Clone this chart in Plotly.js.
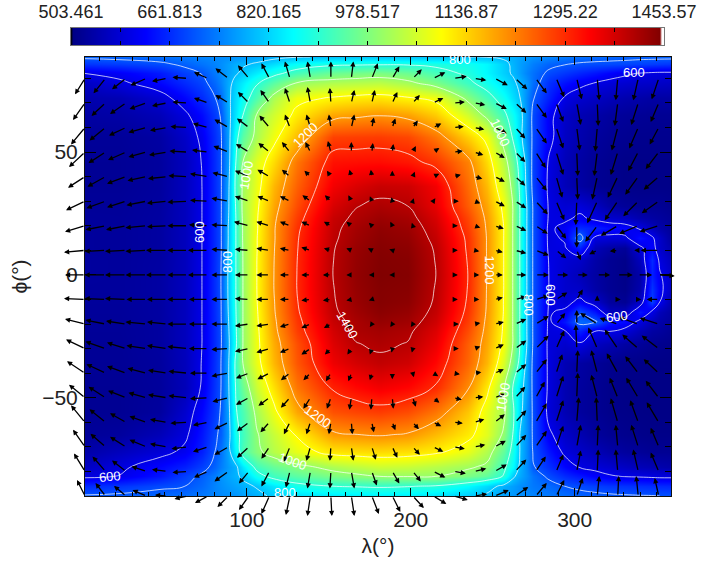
<!DOCTYPE html>
<html><head><meta charset="utf-8">
<script src="https://cdn.plot.ly/plotly-3.0.1.min.js"></script>
<style>html,body{margin:0;padding:0;background:#fff}#c{width:707px;height:565px}</style>
</head><body><div id="c"></div>
<script>
const lons=[1.25,22.6,47,62.2,72.6,80.5,84.2,88.4,93.3,97.6,106.1,116.5,130.5,152.5,166.5,181.1,198.2,215.3,234.8,246.4,256.7,262.2,266.5,270.8,274.4,284.2,293.9,303.1,312.2,321.4,330.5,339.7,347,351.9,358.75];
const lats=[88.7,86,82,78,72,65,56,46,36,28,23,19,15,11,6,0,-6,-11,-15,-19,-23,-28,-36,-46,-56,-65,-72,-78,-82,-86,-90];
const temperature=[
[710,715,725,735,745,750,752,755,760,765,775,785,797,805,808,810,808,804,800,798,790,784,775,765,757,745,735,725,720,716,714,712,712,712,712],
[670,678,692,712,730,745,755,770,785,792,805,830,865,885,888,890,890,885,875,855,815,790,770,755,740,715,704,696,692,690,687,682,678,675,672],
[600,615,645,680,702,735,752,772,795,812,845,885,925,960,968,975,960,925,890,855,815,795,770,745,728,690,672,655,640,622,608,597,592,590,590],
[565,590,625,660,685,720,745,780,820,845,895,945,1005,1025,1030,1035,1015,975,915,875,835,812,788,760,725,665,635,612,598,585,578,572,570,568,565],
[545,550,580,625,660,698,725,785,830,870,935,1020,1085,1105,1115,1120,1105,1085,985,925,870,830,802,750,705,650,595,575,565,555,545,540,535,535,535],
[535,538,555,590,630,675,705,780,840,900,1005,1055,1115,1180,1190,1198,1185,1145,1055,985,915,870,825,755,690,615,570,550,540,530,525,522,520,520,520],
[525,525,535,570,610,665,695,770,880,945,1020,1085,1160,1275,1278,1280,1270,1225,1140,1085,975,895,825,750,692,615,565,545,530,522,518,515,515,515,515],
[522,522,530,560,602,662,695,770,900,1000,1070,1130,1225,1320,1323,1325,1315,1285,1215,1130,1030,955,870,775,685,595,555,535,522,515,510,510,510,510,510],
[522,522,530,560,600,662,695,780,915,1010,1080,1165,1245,1345,1368,1385,1380,1345,1235,1160,1055,985,890,785,685,590,555,535,520,515,510,510,510,510,510],
[525,525,532,560,600,662,695,785,905,1015,1090,1180,1265,1370,1398,1410,1400,1355,1250,1180,1085,1000,900,800,700,595,580,585,565,535,525,520,520,520,515],
[527,526,533,560,600,662,695,790,900,1010,1095,1190,1280,1385,1408,1425,1415,1370,1270,1190,1095,1000,900,800,700,595,590,610,590,575,565,545,535,530,522],
[528,527,533,560,600,662,695,795,900,1005,1095,1195,1290,1390,1417,1435,1425,1380,1280,1195,1100,1000,900,800,700,590,615,660,650,630,625,595,560,540,525],
[528,527,533,560,600,662,695,795,900,1005,1098,1195,1295,1393,1422,1440,1432,1388,1290,1198,1100,1000,900,800,700,590,605,730,590,585,590,635,610,570,530],
[528,527,533,560,600,662,695,797,900,1002,1098,1197,1297,1397,1428,1444,1438,1395,1293,1198,1100,1000,900,800,700,592,595,650,555,535,525,590,625,570,545],
[530,528,534,560,600,663,697,798,900,1001,1100,1199,1299,1399,1431,1447,1443,1398,1297,1199,1100,1000,900,800,700,598,580,570,540,520,512,560,660,590,560],
[530,528,535,560,600,665,700,800,900,1000,1100,1200,1300,1400,1433,1449,1445,1400,1300,1200,1100,1000,900,800,700,600,575,555,535,520,510,540,650,605,570],
[528,528,535,560,600,665,700,800,900,1000,1100,1200,1300,1398,1430,1446,1442,1397,1298,1198,1100,1000,900,800,700,600,575,570,540,520,512,545,670,615,565],
[527,527,534,560,600,664,698,798,900,1000,1098,1197,1297,1396,1427,1445,1438,1394,1294,1197,1098,1000,900,800,700,598,580,615,575,530,520,570,680,600,545],
[526,526,534,560,600,663,697,795,898,1000,1095,1195,1293,1393,1421,1440,1430,1388,1288,1195,1098,1000,900,800,700,595,610,690,640,560,560,640,595,555,535],
[525,525,533,560,600,662,696,790,895,1000,1092,1190,1285,1385,1412,1430,1420,1378,1278,1190,1095,1000,900,800,700,592,640,720,710,640,630,590,555,540,528],
[524,524,532,560,600,662,695,785,893,1000,1088,1185,1278,1375,1410,1418,1408,1365,1265,1185,1092,1000,900,800,700,590,595,650,600,600,585,555,535,530,520],
[523,523,532,560,600,662,695,780,890,1000,1085,1175,1262,1365,1398,1408,1398,1352,1248,1178,1085,1000,900,800,700,588,575,595,565,550,535,525,518,515,512],
[522,522,530,558,602,665,700,785,915,1000,1080,1165,1255,1350,1374,1390,1378,1330,1240,1165,1060,975,880,780,690,590,550,535,525,515,510,510,508,508,508],
[520,520,528,555,605,670,700,785,905,960,1050,1125,1225,1305,1328,1345,1330,1295,1205,1115,1010,900,830,770,690,590,548,530,520,512,508,508,507,507,507],
[520,520,530,575,625,675,705,775,895,930,1015,1085,1180,1260,1272,1280,1265,1225,1150,1075,1015,915,825,750,695,585,550,530,520,512,510,508,507,507,507],
[525,530,555,590,640,690,712,770,880,920,995,1045,1105,1190,1199,1205,1195,1160,1115,1070,990,900,800,755,695,610,570,550,530,520,515,512,510,510,510],
[540,560,585,610,650,700,730,775,860,930,985,1030,1075,1120,1126,1130,1125,1110,1075,1025,950,880,800,750,700,640,590,570,555,540,530,525,520,520,520],
[565,590,625,650,680,715,740,765,790,840,920,955,985,1020,1036,1050,1045,1030,1010,990,915,860,790,750,705,665,625,595,585,575,565,555,550,545,540],
[590,602,640,680,710,740,760,775,790,810,875,920,945,975,988,1000,1002,1000,975,950,895,810,780,755,730,690,660,640,620,605,598,595,592,590,590],
[660,670,690,700,720,745,755,765,775,785,805,840,880,900,904,908,903,895,860,825,785,770,755,745,735,720,700,690,680,672,668,665,662,660,658],
[705,710,720,725,735,745,750,755,760,770,785,810,830,840,843,845,843,835,810,790,770,762,755,750,745,735,725,715,712,708,705,703,702,700,700]
];
const colourbarMin=503.461, colourbarMax=1453.57;
const colourbarTickValues=[503.461,582.637,661.813,740.989,820.165,899.341,978.517,1057.69,1136.87,1216.05,1295.22,1374.4,1453.57];
const colourbarTickLabels=['503.461','','661.813','','820.165','','978.517','','1136.87','','1295.22','','1453.57'];
const contourLabelTexts=['600','600','800','1000','1200','1400','1200','800','600','600','1000','1000','800','600','1200','1000','800'];
const contourLabelLons=[336,71.4,88.4,100,136,161.6,248,271.4,284.8,325.6,254.3,128,123.2,16.5,143.3,256,230];
const contourLabelLats=[82.2,17.5,5.3,40.7,57,-20.4,2,-12.2,-8.1,-17,57.8,-76,-88.7,-82.2,-57.8,-49.7,87.6];
const contourLabelAngles=[0,-90,-90,-80,-45,60,90,90,90,-8,65,20,0,-5,35,-80,0];
const arrowLons=[1.25,13.75,26.25,38.75,51.25,63.75,76.25,88.75,101.25,113.75,126.25,138.75,151.25,163.75,176.25,188.75,201.25,213.75,226.25,238.75,251.25,263.75,276.25,288.75,301.25,313.75,326.25,338.75,351.25];
const arrowLats=[80,70,60,50,40,30,20,10,0,-10,-20,-30,-40,-50,-60,-70,-80,-90];
const windEast=[
[-10,-12,-14,-16,-15,-15,-14,-13,-11,-8,-5,-3,0,2,6,7,9,12,13,12,13,12,11,8,5,2,-2,-5,-7],
[-12,-14,-16,-17,-15,-15,-14,-13,-11,-9,-5,-3,-1,3,3,5,7,10,11,11,12,11,11,7,4,1,-3,-7,-8],
[-14,-16,-17,-18,-17,-17,-15,-14,-12,-10,-5,-4,-2,3,2,3,5,8,10,10,12,10,11,7,3,-2,-6,-9,-9],
[-16,-17,-18,-18,-18,-18,-16,-15,-13,-11,-8,-5,-3,0,1,1,3,6,9,9,10,10,10,7,1,-3,-7,-10,-13],
[-17,-18,-19,-19,-19,-19,-18,-16,-14,-12,-8,-6,-4,-2,-1,0,2,6,7,8,10,10,11,6,1,-5,-10,-13,-15],
[-19,-19,-19,-20,-20,-20,-18,-17,-14,-12,-10,-8,-6,-3,-2,-1,1,2,5,6,10,11,12,8,-1,-10,-13,-15,-17],
[-20,-20,-20,-21,-20,-20,-19,-17,-15,-13,-10,-9,-7,-5,-3,-2,-1,2,4,6,9,11,12,10,0,-12,-17,-19,-19],
[-21,-21,-21,-21,-21,-20,-20,-17,-14,-13,-10,-9,-7,-5,-4,-3,-1,2,4,5,8,11,13,10,4,-8,-8,-4,-18],
[-20,-21,-21,-21,-21,-20,-20,-17,-14,-13,-10,-9,-8,-5,-3,-3,-2,-1,4,5,8,11,13,12,11,13,15,14,16],
[-21,-21,-21,-20,-20,-20,-19,-17,-14,-13,-10,-9,-8,-5,-3,-2,-1,-2,4,5,8,11,13,11,6,0,3,3,-12],
[-20,-20,-20,-21,-20,-20,-19,-17,-14,-13,-10,-9,-7,-5,-2,-2,-2,1,5,6,9,11,13,9,0,-17,-18,-20,-19],
[-19,-20,-19,-20,-20,-20,-19,-17,-14,-13,-10,-9,-6,-4,-2,-1,-1,2,5,6,9,11,13,8,-1,-9,-13,-16,-17],
[-18,-19,-19,-19,-19,-19,-18,-17,-13,-12,-9,-7,-5,-3,-2,0,1,5,6,7,9,11,11,6,1,-6,-11,-13,-15],
[-16,-17,-18,-18,-19,-19,-18,-16,-13,-11,-9,-7,-4,-2,-1,1,3,6,8,9,10,10,9,7,1,-6,-8,-12,-13],
[-14,-16,-16,-17,-17,-17,-15,-14,-12,-9,-6,-4,-2,1,2,3,6,8,9,10,10,11,11,7,2,-1,-7,-8,-12],
[-12,-15,-16,-17,-17,-16,-15,-14,-12,-8,-6,-4,-1,2,4,5,7,10,11,11,11,11,11,7,4,1,-2,-7,-8],
[-11,-13,-14,-15,-15,-15,-14,-14,-10,-8,-4,-3,-1,3,5,7,8,12,12,12,12,11,10,7,4,1,-2,-5,-8],
[-8,-10,-12,-14,-12,-13,-13,-11,-10,-8,-4,-3,1,3,7,8,11,13,14,13,14,13,11,8,6,2,1,-2,-4]
];
const windNorth=[
[-16,-15,-11,-7,-3,1,6,10,13,15,17,17,17,17,15,12,9,6,2,-2,-7,-11,-15,-19,-21,-22,-22,-22,-21],
[-17,-13,-11,-6,-3,1,5,8,11,13,15,16,15,13,13,11,8,5,1,-2,-6,-10,-15,-19,-22,-23,-23,-22,-19],
[-17,-13,-8,-5,-3,1,4,8,9,12,13,13,13,13,10,9,7,4,1,-2,-6,-11,-16,-21,-23,-24,-23,-21,-17],
[-15,-11,-8,-5,-3,1,2,6,8,9,10,10,11,10,9,8,6,4,1,-3,-6,-10,-16,-23,-24,-24,-23,-19,-17],
[-11,-10,-7,-4,-2,1,3,4,6,7,7,6,6,7,7,6,5,3,2,-2,-5,-9,-14,-21,-23,-23,-21,-18,-13],
[-9,-7,-6,-4,-2,-1,1,3,5,5,5,6,6,6,5,4,3,3,0,-2,-5,-7,-13,-19,-24,-22,-19,-15,-12],
[-6,-4,-4,-2,-1,0,1,1,4,4,4,4,4,4,3,4,3,2,0,-2,-3,-5,-8,-13,-22,-16,-10,-8,-6],
[-2,-1,-1,-1,0,0,0,1,1,2,2,3,2,2,2,1,0,0,0,-1,-2,-3,-5,-8,-10,-4,-1,0,0],
[0,0,0,0,0,0,0,0,0,0,0,0,0,0,0,0,0,0,0,0,0,0,0,0,0,0,0,0,-1],
[1,1,1,0,0,0,0,0,1,0,0,-1,-1,-1,-1,-1,-1,-1,0,0,2,3,4,7,10,4,0,0,0],
[5,4,3,2,2,0,0,0,-2,-2,-3,-4,-4,-4,-3,-3,-3,-2,0,1,2,5,8,11,14,11,6,7,6],
[9,7,6,3,3,2,0,-1,-3,-4,-4,-6,-6,-6,-6,-4,-4,2,0,2,4,8,13,18,24,21,19,14,13],
[12,9,7,5,3,2,0,-3,-5,-6,-7,-7,-8,-8,-7,-6,-4,-3,-1,1,4,9,14,19,23,23,20,17,14],
[13,11,7,5,3,2,-1,-4,-7,-8,-10,-11,-11,-12,-12,-11,-9,-5,-2,1,4,11,16,22,25,23,20,20,17],
[17,13,9,6,3,-1,-3,-7,-9,-10,-12,-12,-12,-12,-10,-8,-7,-4,-1,3,8,12,19,22,25,25,24,22,20],
[17,13,10,7,3,-2,-5,-8,-11,-12,-15,-14,-14,-14,-13,-11,-8,-5,-2,2,6,12,16,21,22,22,22,22,19],
[18,15,11,5,2,-1,-6,-10,-12,-15,-16,-17,-17,-17,-14,-12,-10,-6,-2,3,7,12,15,17,21,22,22,22,19],
[16,13,10,6,1,-3,-7,-11,-14,-18,-19,-20,-20,-20,-18,-16,-12,-8,-4,2,6,9,13,16,18,20,20,20,18]
];
const degLonPerWind=1/1.64, degLatPerWind=1/2.457;
const fontName='"Liberation Sans", Arial, sans-serif', ink='#222';
const jet=[[0,'#000000'],[0.003,'#000000'],[0.0031,'#000085'],[0.125,'#0000ff'],[0.375,'#00ffff'],[0.625,'#ffff00'],[0.875,'#ff0000'],[0.996,'#800000'],[0.9961,'#ffffff'],[1,'#ffffff']];
const notes=[];
arrowLats.forEach((la,r)=>arrowLons.forEach((lo,c)=>{
  notes.push({xref:'x',yref:'y',axref:'x',ayref:'y',ax:lo,ay:la,
    x:lo+windEast[r][c]*degLonPerWind,y:la+windNorth[r][c]*degLatPerWind,
    text:'',showarrow:true,arrowhead:2,arrowsize:0.8,arrowwidth:1.3,arrowcolor:'#000',standoff:0,startstandoff:0});
}));
contourLabelTexts.forEach((t,i)=>notes.push({xref:'x',yref:'y',x:contourLabelLons[i],y:contourLabelLats[i],text:t,
  textangle:contourLabelAngles[i],showarrow:false,font:{family:fontName,size:13,color:'#fff'},borderpad:0}));
const barSteps=[];
for(let i=0;i<=296;i++) barSteps.push(colourbarMin+(colourbarMax-colourbarMin)*i/296);
const traces=[{
  type:'contour',x:lons,y:lats,z:temperature,zmin:colourbarMin,zmax:colourbarMax,zauto:false,
  colorscale:jet,zsmooth:'best',autocontour:false,showscale:false,
  contours:{coloring:'heatmap',start:600,end:1400,size:100,showlabels:false},
  line:{color:'rgba(255,255,255,0.9)',width:0.8,smoothing:1.3},hoverinfo:'skip'
},{
  type:'heatmap',x:barSteps,y:[0,1],z:[barSteps,barSteps],xaxis:'x2',yaxis:'y2',
  zmin:colourbarMin,zmax:colourbarMax,zauto:false,colorscale:jet,zsmooth:'fast',showscale:false,hoverinfo:'skip'
}];
const layout={
  width:707,height:565,paper_bgcolor:'#fff',plot_bgcolor:'#fff',showlegend:false,
  margin:{l:0,r:0,t:0,b:0,pad:0},font:{family:fontName,color:ink},
  xaxis:{domain:[85/707,671/707],range:[1.25,358.75],tickmode:'array',tickvals:[100,200,300],ticks:'inside',ticklen:8,tickwidth:1,tickcolor:'#000',
    minor:{dtick:10,ticks:'inside',ticklen:4,tickwidth:1,tickcolor:'#000',showgrid:false},
    showline:true,linecolor:'#111',linewidth:1,mirror:'ticks',showgrid:false,zeroline:false,automargin:false,
    tickfont:{family:fontName,size:21,color:ink},ticklabelstandoff:5,
    title:{text:'λ(°)',font:{family:fontName,size:21,color:ink},standoff:8}},
  yaxis:{domain:[69/565,508/565],range:[-90,88.7],tickmode:'array',tickvals:[-50,0,50],ticks:'inside',ticklen:11,tickwidth:1,tickcolor:'#000',
    minor:{dtick:10,ticks:'inside',ticklen:6,tickwidth:1,tickcolor:'#000',showgrid:false},
    showline:true,linecolor:'#111',linewidth:1,mirror:'ticks',showgrid:false,zeroline:false,automargin:false,
    tickfont:{family:fontName,size:21,color:ink},ticklabelstandoff:2,
    title:{text:'ϕ(°)',font:{family:fontName,size:21,color:ink},standoff:8}},
  xaxis2:{domain:[71/707,664/707],anchor:'y2',side:'top',range:[colourbarMin,colourbarMax],
    tickmode:'array',tickvals:colourbarTickValues,ticktext:colourbarTickLabels,ticks:'inside',ticklen:4,tickwidth:1,tickcolor:'#000',
    showline:true,linecolor:'#777',linewidth:1,mirror:'ticks',showgrid:false,zeroline:false,automargin:false,
    tickfont:{family:fontName,size:18,color:ink},ticklabelstandoff:2},
  yaxis2:{domain:[520/565,537/565],anchor:'x2',range:[0,1],showticklabels:false,ticks:'',
    showline:true,linecolor:'#777',linewidth:1,mirror:true,showgrid:false,zeroline:false,automargin:false},
  annotations:notes
};
Plotly.newPlot('c',traces,layout,{staticPlot:true,displayModeBar:false});
</script></body></html>
